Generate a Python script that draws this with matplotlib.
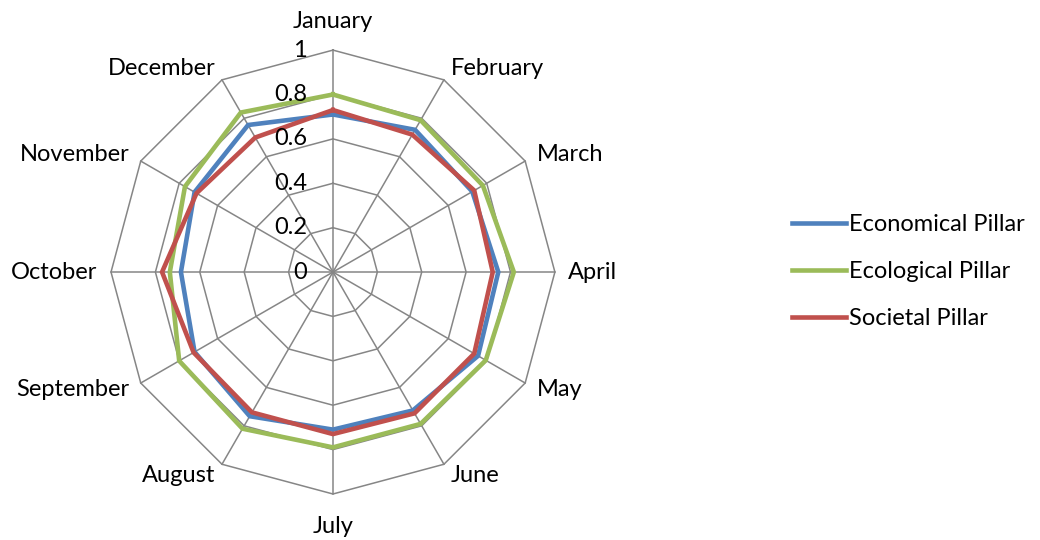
import numpy as np
import matplotlib.pyplot as plt

plt.rcParams['font.family'] = ['Lato', 'DejaVu Sans']

months = ["January", "February", "March", "April", "May", "June",
          "July", "August", "September", "October", "November", "December"]
economical = [0.71, 0.74, 0.725, 0.745, 0.755, 0.72, 0.71, 0.75, 0.72, 0.685, 0.72, 0.765]
ecological = [0.80, 0.79, 0.78, 0.815, 0.795, 0.79, 0.79, 0.815, 0.80, 0.735, 0.77, 0.83]
societal = [0.73, 0.715, 0.735, 0.72, 0.735, 0.735, 0.73, 0.73, 0.725, 0.77, 0.71, 0.70]
rticks = [0, 0.2, 0.4, 0.6, 0.8, 1]
rlabels = ["0", "0.2", "0.4", "0.6", "0.8", "1"]

n = len(months)
theta = np.arange(n) * 2 * np.pi / n
theta_c = np.append(theta, theta[0])
fs = 17

fig = plt.figure(figsize=(10.4, 5.4), dpi=100)
ax = fig.add_axes([0.1067, 0.0852, 0.4269, 0.822], projection='polar')
ax.set_theta_zero_location('N')
ax.set_theta_direction(-1)
ax.set_ylim(0, 1)
ax.grid(False)
ax.spines['polar'].set_visible(False)
ax.set_xticks([])
ax.set_yticks([])

grid_c = '#868686'
for r in rticks[1:]:
    ax.plot(theta_c, [r] * (n + 1), color=grid_c, lw=1.1, zorder=1, clip_on=False)
for t in theta:
    ax.plot([t, t], [0, 1], color=grid_c, lw=1.1, zorder=1, clip_on=False)

for vals, col, lab in [(economical, '#4F81BD', 'Economical Pillar'),
                       (ecological, '#9BBB59', 'Ecological Pillar'),
                       (societal, '#C0504D', 'Societal Pillar')]:
    ax.plot(theta_c, vals + vals[:1], color=col, lw=3.3, label=lab, zorder=3,
            solid_joinstyle='miter')

for r, lab in zip(rticks, rlabels):
    ax.annotate(lab, xy=(0, r), xytext=(-26, 0), textcoords='offset pixels',
                ha='right', va='center', fontsize=fs, zorder=5)

# month labels around the outside
for t, m in zip(theta, months):
    s = np.sin(t)
    c = np.cos(t)
    rr = 1.06
    if abs(s) < 0.01:
        ha = 'center'
    elif s > 0:
        ha = 'left'
    else:
        ha = 'right'
    if c > 0.99:
        va = 'bottom'
        rr = 1.08
    elif c < -0.99:
        va = 'top'
        rr = 1.1
    else:
        va = 'center'
    ax.text(t, rr, m, ha=ha, va=va, fontsize=fs)

fig.legend(loc='center left', bbox_to_anchor=(0.752, 0.497), frameon=False,
           fontsize=fs, handlelength=2.3, handletextpad=0.15, labelspacing=1.1,
           borderaxespad=0)

fig.savefig('out.png', dpi=100)
